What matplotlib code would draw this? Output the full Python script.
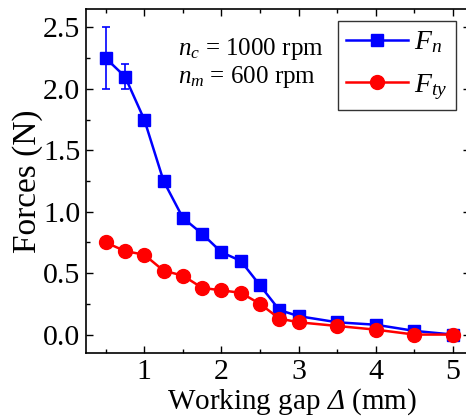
import matplotlib
matplotlib.use('Agg')
import matplotlib.pyplot as plt
from matplotlib.ticker import MultipleLocator

plt.rcParams['font.family'] = ['Liberation Serif', 'DejaVu Serif']
# all math in italic Times-like glyphs (also the Greek capital in the x label)
plt.rcParams['mathtext.fontset'] = 'custom'
plt.rcParams['mathtext.rm'] = 'Liberation Serif:italic'
plt.rcParams['mathtext.it'] = 'Liberation Serif:italic'

# working gap (mm) and measured forces (N)
gap = [0.5, 0.75, 1.0, 1.25, 1.5, 1.75, 2.0, 2.25, 2.5, 2.75, 3.0, 3.5, 4.0, 4.5, 5.0]
f_n = [2.25, 2.10, 1.75, 1.25, 0.95, 0.82, 0.67, 0.60, 0.40, 0.20, 0.15, 0.10, 0.08, 0.03, 0.0]
f_n_err = [0.25, 0.10, 0, 0, 0, 0, 0, 0, 0, 0, 0, 0, 0, 0, 0]
f_ty = [0.75, 0.68, 0.65, 0.52, 0.48, 0.38, 0.36, 0.34, 0.25, 0.13, 0.10, 0.07, 0.04, 0.0, 0.0]

W, H = 466, 417
fig = plt.figure(figsize=(W / 100, H / 100), dpi=100)
# right spine sits just past the canvas edge
ax = fig.add_axes([86 / W, (H - 353) / H, (470 - 86) / W, (353 - 9) / H])

ax.errorbar(gap[:2], f_n[:2], yerr=f_n_err[:2], fmt='none', ecolor='#0000ff',
            elinewidth=1.2, capsize=3, capthick=1.2, zorder=2)
ax.plot(gap, f_n, color='#0000ff', marker='s', markersize=9,
        linewidth=1.8, label=r'$F_n$', zorder=3)
ax.plot(gap, f_ty, color='#ff0000', marker='o', markersize=10,
        linewidth=1.8, label=r'$F_{ty}$', zorder=4)

ax.set_xlim(0.245, 5.22)
ax.set_ylim(-0.15, 2.65)
ax.xaxis.set_major_locator(MultipleLocator(1))
ax.xaxis.set_minor_locator(MultipleLocator(0.5))
ax.yaxis.set_major_locator(MultipleLocator(0.5))
ax.yaxis.set_minor_locator(MultipleLocator(0.25))
ax.set_xticks([1, 2, 3, 4, 5])
ax.tick_params(which='both', direction='in', top=True, right=True, labelsize=21.5)
ax.tick_params(which='major', length=5, width=1, pad=4)
ax.tick_params(which='minor', length=3, width=1)
for s in ax.spines.values():
    s.set_linewidth(1.2)

ax.set_xlabel(r'Working gap $\Delta$ (mm)', fontsize=21)
ax.xaxis.set_label_coords(0.536, -0.163, transform=ax.transAxes)
ax.xaxis.label.set_va('baseline')
ax.set_ylabel('Forces (N)', fontsize=24, labelpad=0)

ax.text(0.24, 0.866, r'$n_c$ = 1000 rpm', transform=ax.transAxes,
        fontsize=18, va='baseline')
ax.text(0.24, 0.785, r'$n_m$ = 600 rpm', transform=ax.transAxes,
        fontsize=18, va='baseline')

leg = ax.legend(loc='upper right', bbox_to_anchor=(456 / W, (H - 21) / H),
                bbox_transform=fig.transFigure, fontsize=20, frameon=True,
                fancybox=False, edgecolor='black', handlelength=2.2,
                borderpad=0.3, labelspacing=0.6, handletextpad=0.25,
                borderaxespad=0)
leg.get_frame().set_linewidth(1.0)

fig.savefig('out.png', dpi=100)
